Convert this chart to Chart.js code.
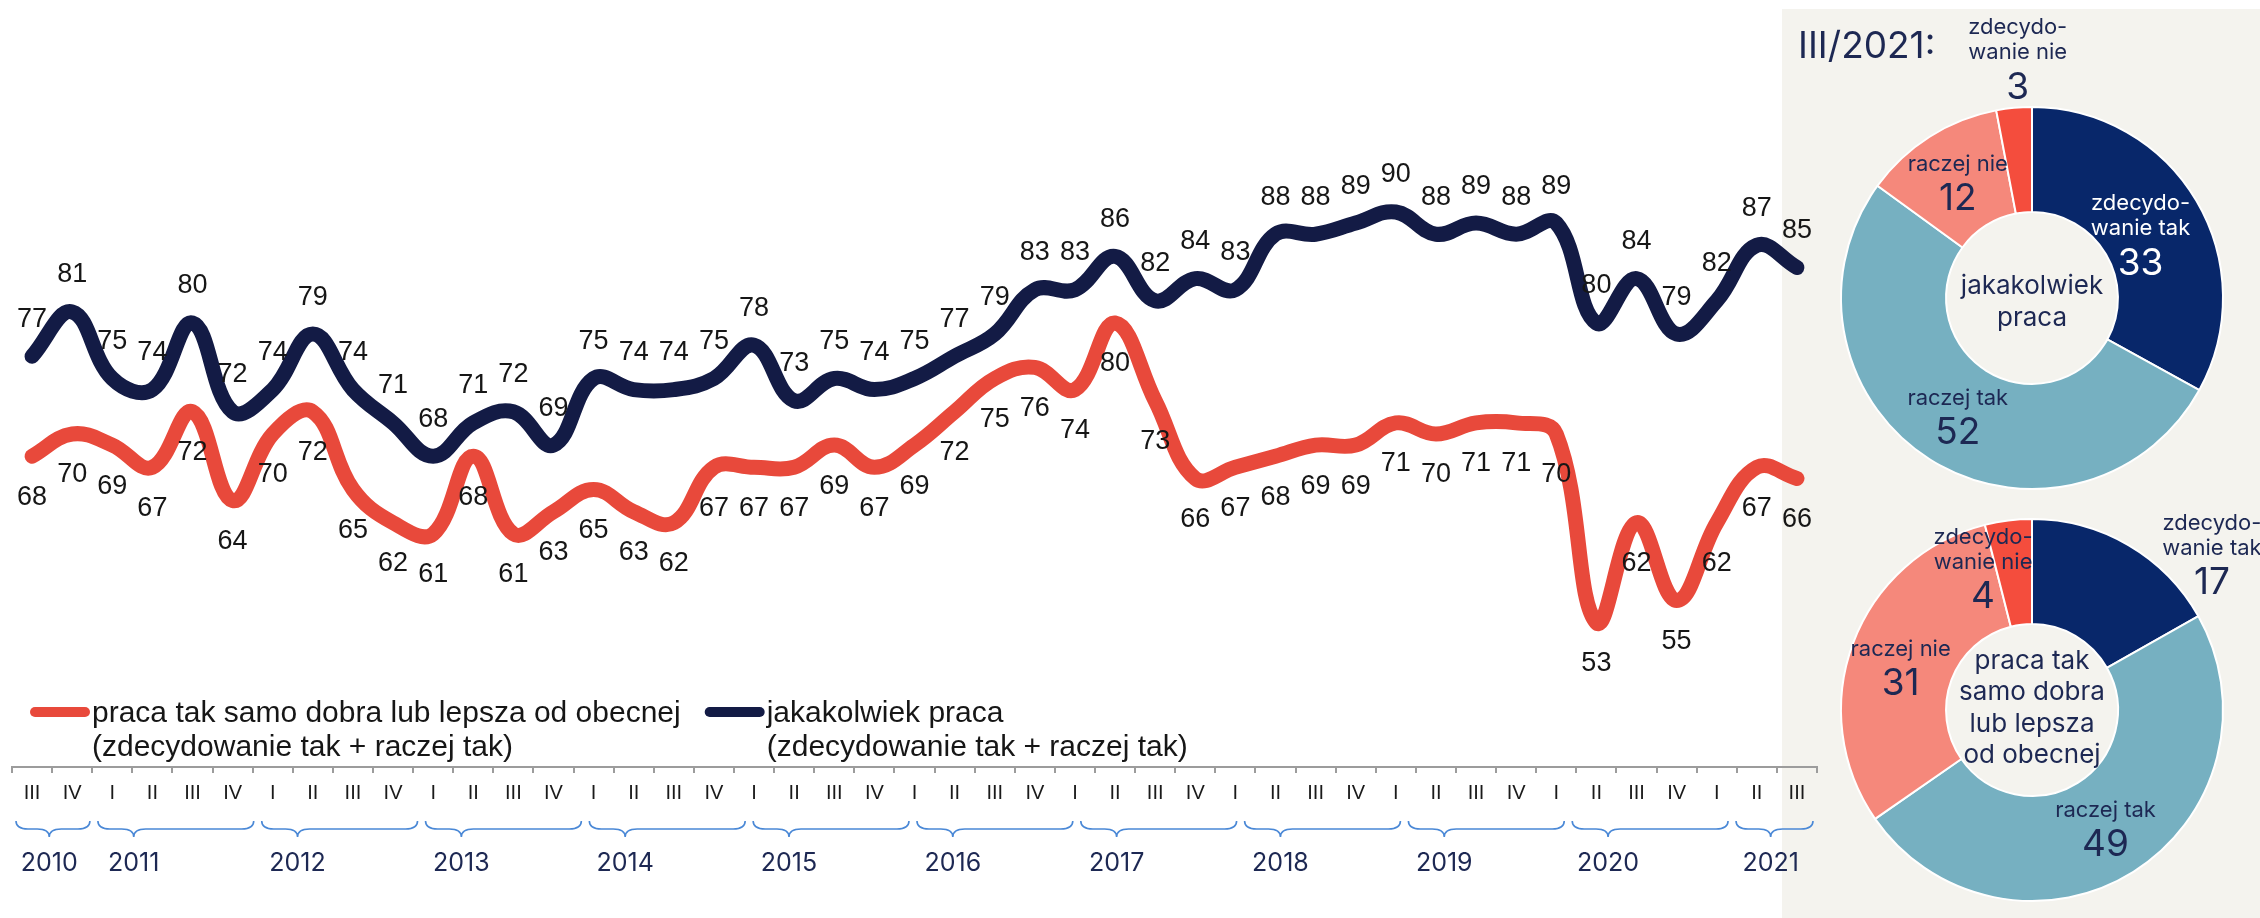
<!DOCTYPE html>
<html>
<head>
<meta charset="utf-8">
<title>Praca</title>
<script src="https://cdn.jsdelivr.net/npm/chart.js@4.4.1/dist/chart.umd.min.js"></script>
<style>
  html, body { margin: 0; padding: 0; background: #fff; }
  body { width: 2260px; height: 918px; position: relative; overflow: hidden; }
  #panel { position: absolute; left: 1782px; top: 9px; width: 478px; height: 909px; background: #f4f3ee; }
  canvas { position: absolute; }
  #donutTop { left: 1782px; top: 0; }
  #donutBottom { left: 1782px; top: 418px; }
  #lineChart { left: 0; top: 0; }
</style>
</head>
<body>
<div id="panel"></div>
<canvas id="donutTop" width="478" height="500"></canvas>
<canvas id="donutBottom" width="478" height="500"></canvas>
<canvas id="lineChart" width="1860" height="918"></canvas>
<script>
// quarters, III/2010 .. III/2021
const periods = [
  'III/2010', 'IV/2010',
  'I/2011', 'II/2011', 'III/2011', 'IV/2011',
  'I/2012', 'II/2012', 'III/2012', 'IV/2012',
  'I/2013', 'II/2013', 'III/2013', 'IV/2013',
  'I/2014', 'II/2014', 'III/2014', 'IV/2014',
  'I/2015', 'II/2015', 'III/2015', 'IV/2015',
  'I/2016', 'II/2016', 'III/2016', 'IV/2016',
  'I/2017', 'II/2017', 'III/2017', 'IV/2017',
  'I/2018', 'II/2018', 'III/2018', 'IV/2018',
  'I/2019', 'II/2019', 'III/2019', 'IV/2019',
  'I/2020', 'II/2020', 'III/2020', 'IV/2020',
  'I/2021', 'II/2021', 'III/2021'
];

const betterJob = [68, 70, 69, 67, 72, 64, 70, 72, 65, 62, 61, 68, 61, 63, 65, 63, 62, 67, 67, 67, 69, 67, 69, 72, 75,
                   76, 74, 80, 73, 66, 67, 68, 69, 69, 71, 70, 71, 71, 70, 53, 62, 55, 62, 67, 66];
const anyJob = [77, 81, 75, 74, 80, 72, 74, 79, 74, 71, 68, 71, 72, 69, 75, 74, 74, 75, 78, 73, 75, 74, 75, 77, 79,
                83, 83, 86, 82, 84, 83, 88, 88, 89, 90, 88, 89, 88, 89, 80, 84, 79, 82, 87, 85];

const seriesNames = [
  ['praca tak samo dobra lub lepsza od obecnej', '(zdecydowanie tak + raczej tak)'],
  ['jakakolwiek praca', '(zdecydowanie tak + raczej tak)']
];

// III/2021 breakdown
const answerNames = [['zdecydo-', 'wanie tak'], ['raczej tak'], ['raczej nie'], ['zdecydo-', 'wanie nie']];
const anyJobAnswers = [33, 52, 12, 3];
const betterJobAnswers = [17, 49, 31, 4];

const NAVY_TEXT = '#1d2853';
const LABEL_FONT = '"Liberation Sans", Arial, sans-serif';
const PANEL_FONT = 'Inter, "Open Sans", sans-serif';

let quarterTicks = periods.map(p => p.split('/')[0]);
let periodYears = periods.map(p => p.split('/')[1]);

// value labels over / under the lines
const pointLabels = {
  id: 'pointLabels',
  afterDatasetsDraw(chart) {
    const ctx = chart.ctx;
    ctx.save();
    ctx.font = '27px ' + LABEL_FONT;
    ctx.fillStyle = '#161616';
    ctx.textAlign = 'center';
    ctx.textBaseline = 'middle';
    chart.data.datasets.forEach((ds, di) => {
      chart.getDatasetMeta(di).data.forEach((pt, i) => {
        ctx.fillText(String(ds.data[i]), pt.x, pt.y + ds.labelShift);
      });
    });
    ctx.restore();
  }
};

// two-line legend in the lower left
const seriesLegend = {
  id: 'seriesLegend',
  afterDraw(chart, args, opts) {
    const ctx = chart.ctx;
    ctx.save();
    ctx.font = '30px ' + LABEL_FONT;
    ctx.textBaseline = 'alphabetic';
    let x = opts.x;
    chart.data.datasets.forEach((ds, i) => {
      ctx.strokeStyle = ds.borderColor;
      ctx.lineWidth = 10;
      ctx.lineCap = 'round';
      ctx.beginPath();
      ctx.moveTo(x + 5, opts.y - 10);
      ctx.lineTo(x + 55, opts.y - 10);
      ctx.stroke();
      ctx.fillStyle = '#161616';
      let w = 0;
      seriesNames[i].forEach((line, k) => {
        ctx.fillText(line, x + 62, opts.y + k * 34);
        w = Math.max(w, ctx.measureText(line).width);
      });
      x += 62 + w + 24;
    });
    ctx.restore();
  }
};

// curly braces and years under the quarter ticks
const yearBraces = {
  id: 'yearBraces',
  afterDraw(chart, args, opts) {
    const ctx = chart.ctx;
    const sx = chart.scales.x;
    const step = sx.getPixelForValue(1) - sx.getPixelForValue(0);
    const x0 = chart.chartArea.left;
    const stretch = v => x0 + (v - x0) * opts.stretch;
    const years = [...new Set(periodYears)];
    ctx.save();
    years.forEach(y => {
      const first = periodYears.indexOf(y);
      const last = periodYears.lastIndexOf(y);
      const a = stretch(sx.getPixelForValue(first) - step / 2) + 4;
      const b = Math.min(stretch(sx.getPixelForValue(last) + step / 2), chart.chartArea.right) - 4;
      const full = last - first === 3;
      const tip = a + (b - a) * (full ? 0.23 : 0.45);
      const top = opts.top, mid = top + 8, low = top + 16, r = 12;
      ctx.strokeStyle = '#4a88d6';
      ctx.lineWidth = 1.6;
      ctx.beginPath();
      ctx.moveTo(a, top);
      ctx.quadraticCurveTo(a, mid, a + r, mid);
      ctx.lineTo(tip - r, mid);
      ctx.quadraticCurveTo(tip, mid, tip, low);
      ctx.quadraticCurveTo(tip, mid, tip + r, mid);
      ctx.lineTo(b - r, mid);
      ctx.quadraticCurveTo(b, mid, b, top);
      ctx.stroke();
      ctx.fillStyle = NAVY_TEXT;
      ctx.font = '25px ' + PANEL_FONT;
      ctx.textAlign = 'center';
      ctx.textBaseline = 'middle';
      ctx.fillText(y, tip, opts.labelY);
    });
    ctx.restore();
  }
};

new Chart(document.getElementById('lineChart'), {
  type: 'line',
  data: {
    labels: quarterTicks,
    datasets: [
      {
        label: seriesNames[0].join(' '),
        data: betterJob,
        borderColor: '#e8493b',
        labelShift: 41
      },
      {
        label: seriesNames[1].join(' '),
        data: anyJob,
        borderColor: '#131b45',
        labelShift: -37
      }
    ]
  },
  options: {
    responsive: false,
    animation: false,
    devicePixelRatio: 1,
    layout: { padding: { left: 12, right: 43, top: 101, bottom: 111 } },
    elements: {
      line: { borderWidth: 15, tension: 0.4, borderCapStyle: 'round', borderJoinStyle: 'round' },
      point: { radius: 0 }
    },
    scales: {
      x: {
        offset: true,
        grid: { offset: true, drawOnChartArea: false, tickLength: 6, color: '#9c9c9c', lineWidth: 2 },
        border: { color: '#9c9c9c', width: 2 },
        ticks: {
          autoSkip: false, maxRotation: 0, padding: 8,
          color: '#1a1a1a', font: { family: LABEL_FONT, size: 20 }
        },
        afterFit(scale) { scale.height = 40; }
      },
      y: { display: false, min: 40, max: 100 }
    },
    plugins: {
      legend: { display: false },
      tooltip: { enabled: false },
      seriesLegend: { x: 30, y: 722 },
      yearBraces: { stretch: 1.021, top: 821, labelY: 863 }
    }
  },
  plugins: [pointLabels, seriesLegend, yearBraces]
});

// labels on the doughnuts
const donutText = {
  id: 'donutText',
  afterDatasetsDraw(chart, args, opts) {
    const ctx = chart.ctx;
    const ds = chart.data.datasets[0];
    const area = chart.chartArea;
    const cx = (area.left + area.right) / 2;
    const cy = (area.top + area.bottom) / 2;
    ctx.save();
    ctx.textAlign = 'center';
    ctx.textBaseline = 'middle';
    chart.getDatasetMeta(0).data.forEach((arc, i) => {
      const p = opts.placement[i] || {};
      const ang = (arc.startAngle + arc.endAngle) / 2 + (p.turn || 0) * Math.PI / 180;
      const rad = arc.outerRadius * (p.r || 0.725);
      const x = arc.x + Math.cos(ang) * rad;
      const y = arc.y + Math.sin(ang) * rad;
      const name = answerNames[i];
      const valueY = y + (name.length > 1 ? 30 : 18);
      ctx.fillStyle = p.light ? '#ffffff' : NAVY_TEXT;
      ctx.font = '22px ' + PANEL_FONT;
      name.forEach((line, k) => {
        ctx.fillText(line, x, valueY - 35 - (name.length - 1 - k) * 25);
      });
      ctx.font = '37px ' + PANEL_FONT;
      ctx.fillText(String(ds.data[i]), x, valueY);
    });
    ctx.fillStyle = NAVY_TEXT;
    ctx.font = '26px ' + PANEL_FONT;
    const lines = opts.center;
    lines.forEach((line, k) => {
      ctx.fillText(line, cx, cy + opts.centerShift + (k - (lines.length - 1) / 2) * 31.5);
    });
    if (opts.title) {
      ctx.textAlign = 'left';
      ctx.font = '37px ' + PANEL_FONT;
      ctx.fillText(opts.title, 16, 47);
    }
    ctx.restore();
  }
};

const sliceColors = ['#08276a', '#76b0c1', '#f5887b', '#f44d3d'];

function makeDonut(id, values, pad, textOpts) {
  return new Chart(document.getElementById(id), {
    type: 'doughnut',
    data: {
      labels: answerNames.map(n => n.join('')),
      datasets: [{ data: values, backgroundColor: sliceColors, borderColor: '#ffffff', borderWidth: 2 }]
    },
    options: {
      responsive: false,
      animation: false,
      devicePixelRatio: 1,
      cutout: '45%',
      layout: { padding: pad },
      plugins: { legend: { display: false }, tooltip: { enabled: false }, donutText: textOpts }
    },
    plugins: [donutText]
  });
}

makeDonut('donutTop', anyJobAnswers, { left: 58, right: 36, top: 106, bottom: 10 }, {
  title: 'III/2021:',
  center: ['jakakolwiek', 'praca'],
  centerShift: 4,
  placement: [{ r: 0.66, light: true }, {}, {}, { r: 1.26, turn: 2 }]
});

makeDonut('donutBottom', betterJobAnswers, { left: 58, right: 36, top: 100, bottom: 16 }, {
  center: ['praca tak', 'samo dobra', 'lub lepsza', 'od obecnej'],
  centerShift: -2,
  placement: [{ r: 1.25, turn: 18.6 }, {}, { turn: -2 }, { r: 0.79, turn: -11.8 }]
});
</script>
</body>
</html>
